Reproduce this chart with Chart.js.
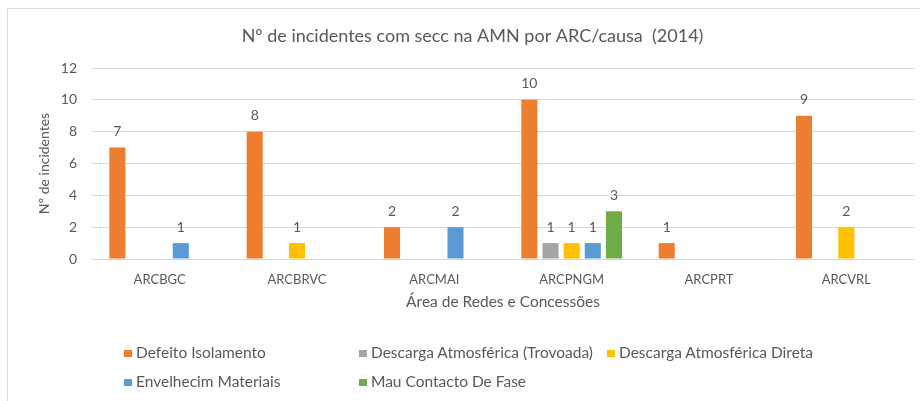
<!DOCTYPE html>
<html>
<head>
<meta charset="utf-8">
<script src="https://cdn.jsdelivr.net/npm/chart.js@4"></script>
<style>
  html, body { margin: 0; padding: 0; background: #fff; }
  #wrap { position: relative; width: 920px; height: 401px; overflow: hidden; font-family: Lato, sans-serif; }
  #frame { position: absolute; left: 7px; top: 8px; width: 940px; height: 420px; border: 1px solid #d9d9d9; }
  #box { position: absolute; left: 0; top: 0; width: 920px; height: 401px; }
  #legend { position: absolute; left: 124px; top: 342px; display: grid; grid-template-columns: 235px 248px auto; grid-auto-rows: 29px; }
  .item { font-size: 15.5px; color: #595959; white-space: nowrap; line-height: 20px; }
  .sw { display: inline-block; width: 8px; height: 7px; margin-right: 4px; vertical-align: 1px; }
</style>
</head>
<body>
<div id="wrap">
  <div id="frame"></div>
  <div id="box"><canvas id="chart"></canvas></div>
  <div id="legend"></div>
</div>
<script>
const categories = ["ARCBGC", "ARCBRVC", "ARCMAI", "ARCPNGM", "ARCPRT", "ARCVRL"];
const defeitoIsolamento = [7, 8, 2, 10, 1, 9];
const descargaTrovoada = [null, null, null, 1, null, null];
const descargaDireta = [null, 1, null, 1, null, 2];
const envelhecimMateriais = [1, null, 2, 1, null, null];
const mauContacto = [null, null, null, 3, null, null];
const yTicks = [0, 2, 4, 6, 8, 10, 12];

const series = [
  { label: "Defeito Isolamento", data: defeitoIsolamento, color: "#ED7D31" },
  { label: "Descarga Atmosférica (Trovoada)", data: descargaTrovoada, color: "#A5A5A5" },
  { label: "Descarga Atmosférica Direta", data: descargaDireta, color: "#FFC000" },
  { label: "Envelhecim Materiais", data: envelhecimMateriais, color: "#5B9BD5" },
  { label: "Mau Contacto De Fase", data: mauContacto, color: "#70AD47" },
];

const textColor = "#595959";
const font = "Lato";

// value labels above bars
const valueLabels = {
  id: "valueLabels",
  afterDatasetsDraw(chart) {
    const { ctx } = chart;
    ctx.save();
    ctx.font = `14px ${font}`;
    ctx.fillStyle = textColor;
    ctx.textAlign = "center";
    ctx.textBaseline = "middle";
    chart.data.datasets.forEach((ds, i) => {
      chart.getDatasetMeta(i).data.forEach((bar, j) => {
        const v = ds.data[j];
        if (v === null || v === undefined) return;
        ctx.fillText(String(v), bar.x, bar.y - 16);
      });
    });
    ctx.restore();
  },
};

new Chart(document.getElementById("chart"), {
  type: "bar",
  data: {
    labels: categories,
    datasets: series.map((s) => ({
      label: s.label,
      data: s.data,
      backgroundColor: s.color,
      categoryPercentage: 0.77,
      barPercentage: 0.76,
    })),
  },
  options: {
    responsive: true,
    maintainAspectRatio: false,
    animation: false,
    layout: { padding: { left: 30, right: 5, top: 0, bottom: 82 } },
    plugins: {
      legend: { display: false },
      tooltip: { enabled: false },
      title: {
        display: true,
        text: "Nº de incidentes com secc na AMN por ARC/causa  (2014)",
        color: textColor,
        font: { family: font, size: 18, weight: "normal" },
        padding: { top: 25, bottom: 21.4 },
      },
    },
    scales: {
      x: {
        grid: { display: false, drawTicks: false },
        border: { display: false },
        ticks: { color: textColor, font: { family: font, size: 13 }, padding: 13 },
        title: { display: true, text: "Área de Redes e Concessões", color: textColor, font: { family: font, size: 15.5 }, padding: { top: 4, bottom: 8 } },
        afterFit: (s) => { s.height = 60; },
      },
      y: {
        min: 0,
        max: 12,
        afterBuildTicks: (s) => { s.ticks = yTicks.map((v) => ({ value: v })); },
        grid: { color: "#d9d9d9", drawTicks: false },
        border: { display: false },
        ticks: { color: textColor, font: { family: font, size: 14 }, padding: 14 },
        title: { display: true, text: "Nº de incidentes", color: textColor, font: { family: font, size: 14 }, padding: { top: 5.6, bottom: 0 } },
        afterFit: (s) => { s.width = 61; },
      },
    },
  },
  plugins: [valueLabels],
});

// legend in Excel-like columns
const legend = document.getElementById("legend");
series.forEach((s) => {
  const item = document.createElement("div");
  item.className = "item";
  item.innerHTML = `<span class="sw" style="background:${s.color}"></span>${s.label}`;
  legend.appendChild(item);
});
</script>
</body>
</html>
